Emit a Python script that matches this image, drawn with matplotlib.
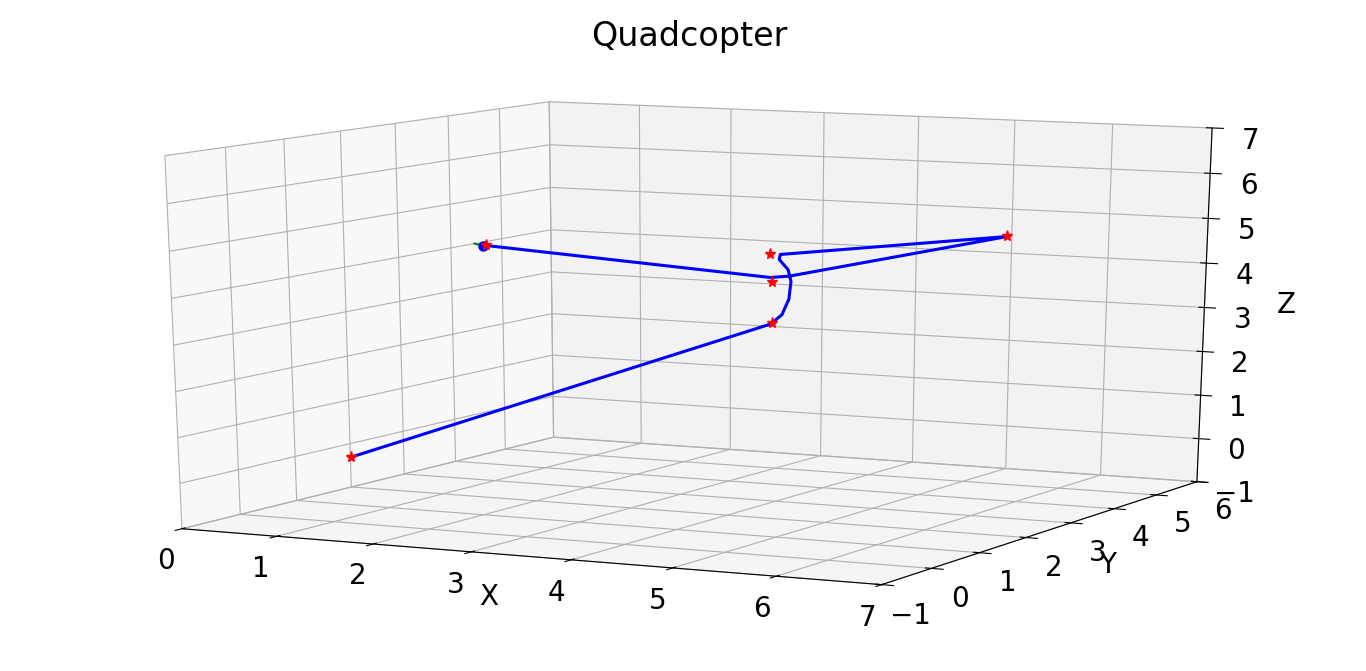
import numpy as np
import matplotlib
matplotlib.use('Agg')
import matplotlib.pyplot as plt
from mpl_toolkits.mplot3d import Axes3D  # noqa

# Waypoints (red stars)
wp_x = [1.23, 4.20, 6.52, 4.18, 4.20, -0.29]
wp_y = [2.5, 2.5, 2.5, 2.5, 2.5, 2.5]
wp_z = [4.53, 4.05, 5.28, 4.64, 3.16, -0.50]

# Trajectory (blue line)
traj_x = [1.23, 4.18, 4.37, 6.52, 4.28, 4.27, 4.36, 4.39, 4.37, 4.30, 4.18, -0.29]
traj_y = [2.5] * 12
traj_z = [4.51, 4.14, 4.19, 5.28, 4.65, 4.54, 4.33, 4.08, 3.69, 3.34, 3.12, -0.50]

# Quadcopter current position and heading
quad_pos = [1.20, 2.5, 4.50]
head_x = [1.11, 1.20]
head_y = [2.5, 2.5]
head_z = [4.54, 4.50]

x_ticks = [0, 1, 2, 3, 4, 5, 6, 7]
y_ticks = [-1, 0, 1, 2, 3, 4, 5, 6]
z_ticks = [-1, 0, 1, 2, 3, 4, 5, 6, 7]

fig = plt.figure(figsize=(13.66, 6.71), dpi=100)
ax = fig.add_axes([0.117, 0.119, 0.775, 0.77], projection='3d')
ax.apply_aspect = lambda position=None: None
ax.set_box_aspect((1, 1, 1.0), zoom=1.215)
ax.view_init(elev=13.5, azim=-62.8)

ax.plot(traj_x, traj_y, traj_z, color='blue', lw=2.2)
ax.plot(head_x, head_y, head_z, color='green', lw=1.5)
ax.plot([quad_pos[0]], [quad_pos[1]], [quad_pos[2]], 'o', color='blue', ms=6.5)
ax.plot(wp_x, wp_y, wp_z, '*', color='red', ms=8, ls='none')

ax.set_xlim(0, 7)
ax.set_ylim(-1, 6)
ax.set_zlim(-1, 7)
ax.set_xticks(x_ticks)
ax.set_yticks(y_ticks)
ax.set_zticks(z_ticks)
ax.tick_params(labelsize=20)
ax.set_xlabel('X', fontsize=20)
ax.set_ylabel('Y', fontsize=20)
ax.set_zlabel('Z', fontsize=20)
ax.set_title('Quadcopter', fontsize=24, y=1.13)

fig.savefig('out.png', dpi=100)
